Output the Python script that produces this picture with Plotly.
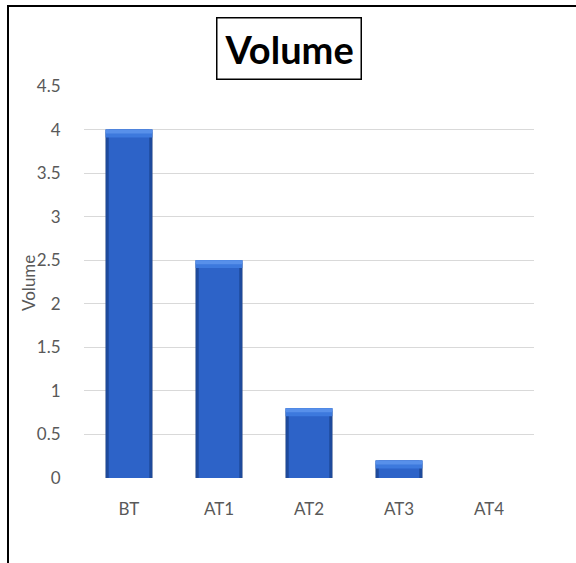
import plotly.graph_objects as go

# Chart data
categories = ["BT", "AT1", "AT2", "AT3", "AT4"]
volume = [4.0, 2.5, 0.8, 0.2, 0.0]
y_ticks = [0, 0.5, 1, 1.5, 2, 2.5, 3, 3.5, 4, 4.5]
y_tick_text = ["0", "0.5", "1", "1.5", "2", "2.5", "3", "3.5", "4", "4.5"]

W, H = 576, 563
L, R, T, B = 84, 42, 86, 85
PW, PH = W - L - R, H - T - B

BEVEL = 0.09  # depth of the lighter top facet, in axis units


def px_x(x):
    return (x - L) / PW


def px_y(y):
    return (H - B - y) / PH


FONT = "Lato, 'Open Sans', sans-serif"
GRAY = "#595959"

fig = go.Figure()

# soft shadow under each column
fig.add_trace(go.Bar(
    x=categories, y=volume, base=[-0.03] * len(volume), width=0.53,
    marker=dict(color="rgba(120,120,120,0.35)", line=dict(width=0)),
    hoverinfo="skip", showlegend=False,
))
# outer bar: dark edge of the bevelled column
fig.add_trace(go.Bar(
    x=categories, y=volume, width=0.52,
    marker=dict(color="#1E4A9C", line=dict(width=0)),
    hoverinfo="x+y", showlegend=False,
))
# inner face of the column
fig.add_trace(go.Bar(
    x=categories, y=volume, width=0.45,
    marker=dict(color="#2D63C8", line=dict(width=0)),
    hoverinfo="skip", showlegend=False,
))
# light top facet
bevel_base = [max(v - BEVEL, 0) for v in volume]
bevel_h = [v - b for v, b in zip(volume, bevel_base)]
fig.add_trace(go.Bar(
    x=categories, y=bevel_h, base=bevel_base, width=0.52,
    marker=dict(color="#3D79DD", line=dict(width=0)),
    hoverinfo="skip", showlegend=False,
))
fig.add_trace(go.Bar(
    x=categories, y=[h * 0.5 for h in bevel_h],
    base=[b + h * 0.5 for b, h in zip(bevel_base, bevel_h)], width=0.52,
    marker=dict(color="#5890EA", line=dict(width=0)),
    hoverinfo="skip", showlegend=False,
))

fig.update_layout(
    width=W, height=H,
    margin=dict(l=L, r=R, t=T, b=B, autoexpand=False),
    paper_bgcolor="white", plot_bgcolor="white",
    barmode="overlay",
    showlegend=False,
    font=dict(family=FONT, color=GRAY, size=17),
    xaxis=dict(
        type="category", range=[-0.5, 4.5],
        showgrid=False, zeroline=False, showline=False,
        ticks="outside", ticklen=16, tickcolor="rgba(0,0,0,0)",
        tickfont=dict(family=FONT, size=17, color=GRAY),
    ),
    yaxis=dict(
        range=[0, 4.5], tickvals=y_ticks, ticktext=y_tick_text,
        showgrid=True, gridcolor="#D9D9D9", gridwidth=1,
        zeroline=False, showline=False,
        ticks="outside", ticklen=19, tickcolor="rgba(0,0,0,0)",
        tickfont=dict(family=FONT, size=17, color=GRAY),
    ),
    shapes=[
        # chart frame: left and top edges
        dict(type="line", xref="paper", yref="paper",
             x0=px_x(8), y0=px_y(H + 5), x1=px_x(8), y1=px_y(6),
             line=dict(color="black", width=2)),
        dict(type="line", xref="paper", yref="paper",
             x0=px_x(7), y0=px_y(6), x1=px_x(W + 5), y1=px_y(6),
             line=dict(color="black", width=2)),
    ],
    annotations=[
        dict(text="<b>Volume</b>", xref="paper", yref="paper",
             x=px_x(289), y=px_y(48), xanchor="center", yanchor="middle",
             showarrow=False, font=dict(family=FONT, size=38, color="black"),
             bordercolor="black", borderwidth=1.5, borderpad=7, bgcolor="white"),
        dict(text="Volume", xref="paper", yref="paper",
             x=px_x(28), y=px_y(283), xanchor="center", yanchor="middle",
             textangle=-90, showarrow=False,
             font=dict(family=FONT, size=17, color=GRAY)),
    ],
)

fig.write_html("out.html")
